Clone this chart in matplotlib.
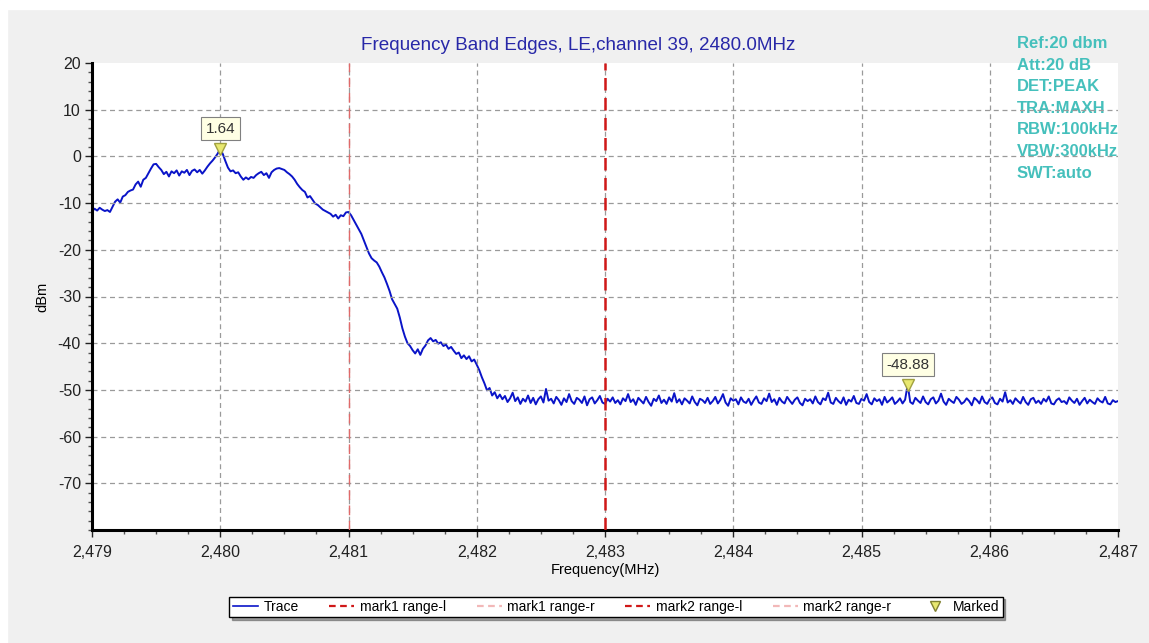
import numpy as np
import matplotlib
matplotlib.use('Agg')
import matplotlib.pyplot as plt
from matplotlib.lines import Line2D
from matplotlib.ticker import MultipleLocator, FuncFormatter

plt.rcParams['font.family'] = ['Liberation Sans', 'DejaVu Sans']
plt.rcParams['axes.unicode_minus'] = False

TITLE = 'Frequency Band Edges, LE,channel 39, 2480.0MHz'
SETTINGS = ['Ref:20 dbm', 'Att:20 dB', 'DET:PEAK', 'TRA:MAXH',
            'RBW:100kHz', 'VBW:300kHz', 'SWT:auto']

# trace level (dBm), sweep 2479 -> 2487 MHz, one point per 0.02 MHz
level = [
    -11.8, -11.2, -11.6, -11.0, -11.4, -11.7, -11.5, -11.9, -10.8, -9.7,
    -9.2, -9.9, -8.6, -8.3, -7.6, -7.3, -7.1, -6.0, -5.4, -6.5,
    -5.0, -4.6, -3.6, -2.6, -1.7, -1.6, -2.3, -2.9, -3.8, -3.3,
    -4.3, -3.2, -3.6, -3.0, -4.1, -3.2, -3.5, -2.9, -4.0, -3.1,
    -2.8, -3.4, -2.9, -3.7, -3.0, -2.2, -1.5, -0.9, -0.2, 0.6,
    1.64, 0.5, -1.0, -2.4, -3.2, -3.0, -3.6, -3.4, -4.3, -5.0,
    -4.5, -4.9, -4.4, -4.6, -4.0, -3.6, -3.3, -4.0, -3.6, -4.6,
    -3.4, -2.9, -2.6, -2.5, -2.7, -2.9, -3.4, -3.8, -4.3, -5.0,
    -5.9, -6.6, -7.2, -7.6, -8.8, -8.5, -9.3, -10.1, -10.4, -10.9,
    -11.4, -11.7, -12.0, -12.3, -12.9, -12.5, -13.3, -12.6, -12.8, -12.0,
    -11.9, -12.6, -13.6, -14.6, -15.6, -16.6, -18.0, -19.4, -20.8, -21.8,
    -22.3, -22.7, -23.6, -24.8, -25.9, -27.3, -28.8, -30.6, -31.6, -32.6,
    -34.5, -36.8, -38.6, -40.0, -40.6, -41.5, -42.2, -41.3, -42.5, -41.2,
    -40.5, -39.4, -38.9, -39.6, -39.3, -40.1, -39.8, -40.6, -40.3, -41.2,
    -40.8, -41.6, -42.3, -42.0, -43.2, -42.6, -43.4, -42.8, -43.9, -43.5,
    -44.6, -45.8, -47.3, -48.6, -50.1, -49.6, -51.2, -50.5, -51.8, -51.0,
    -52.0, -51.3, -52.6, -51.8, -50.6, -52.4, -51.6, -53.0, -51.9, -52.5,
    -51.2, -52.8, -51.7, -53.1, -52.0, -51.4, -52.7, -49.8, -52.3, -51.9,
    -52.9, -51.5, -52.2, -53.2, -51.8, -52.6, -50.9, -52.4, -53.0, -51.7,
    -52.1, -52.8, -51.4, -53.3, -52.0, -51.6, -52.9, -52.2, -51.3, -52.7,
    -53.0, -51.9, -52.5, -51.6, -52.8, -52.2, -53.1, -51.8, -52.4, -50.9,
    -52.6, -52.0, -53.2, -51.7, -52.3, -52.9, -51.5, -52.6, -53.4, -51.9,
    -52.4, -51.2, -52.8, -52.1, -53.0, -51.6, -52.5, -50.7, -52.7, -52.0,
    -53.1, -51.8, -52.3, -52.9, -51.4, -52.6, -53.3, -51.9, -52.2, -52.8,
    -51.7, -53.0, -52.4, -51.5, -52.9, -52.1, -50.9, -52.7, -53.4, -51.8,
    -52.3, -52.0, -53.1, -51.6, -52.5, -52.8, -51.9, -53.2, -52.2, -51.4,
    -52.7, -53.0, -51.8, -52.4, -50.8, -52.6, -52.0, -53.2, -51.7, -52.5,
    -52.9, -51.5, -52.3, -53.0, -52.1, -51.6, -52.8, -53.3, -51.9, -52.4,
    -52.0, -52.9, -51.4, -52.6, -53.1, -51.8, -52.2, -50.6, -52.7, -53.0,
    -51.7, -52.4, -52.9, -51.6, -53.2, -52.1, -52.5, -51.3, -52.8, -53.0,
    -51.9, -52.3, -50.9, -52.6, -53.1, -51.8, -52.4, -52.0, -53.2, -51.5,
    -52.7, -52.2, -51.6, -53.0, -52.5, -51.8, -52.9, -52.1, -48.88, -52.6,
    -53.0, -51.7, -52.3, -52.8, -51.4, -52.6, -53.1, -52.0, -51.6, -52.9,
    -52.3, -50.8, -52.5, -53.2, -51.9, -52.4, -52.8, -51.5, -52.1, -53.0,
    -52.6, -51.8, -52.4, -53.3, -51.7, -52.2, -52.9, -51.4, -52.6, -53.0,
    -52.0, -51.6, -52.8, -53.1, -51.9, -52.5, -50.5, -52.7, -52.2, -53.0,
    -51.8, -52.4, -52.9, -51.5, -52.6, -53.2, -52.0, -51.7, -52.8, -52.3,
    -53.0, -51.9, -52.5, -51.4, -52.9, -53.1, -52.2, -51.8, -52.6, -52.4,
    -53.0, -51.6, -52.3, -52.8, -51.9, -53.2, -52.4, -51.7, -52.9, -52.1,
    -52.6, -53.0, -51.8, -52.4, -52.7, -51.5, -52.9, -53.1, -52.2, -52.6,
    -52.4,
]
freq = np.linspace(2479.0, 2487.0, len(level))

mark_freq = [2480.0, 2485.36]
mark_level = [1.64, -48.88]
range_lines = [2481.0, 2483.0]

fig = plt.figure(figsize=(11.49, 6.43), dpi=100)
fig.patch.set_facecolor('#f0f0f0')
# thin white strip along top / left like the screenshot
fig.add_artist(plt.Rectangle((0, 1 - 9 / 643), 1, 9 / 643, transform=fig.transFigure,
                             color='white', zorder=0))
fig.add_artist(plt.Rectangle((0, 0), 7 / 1149, 1, transform=fig.transFigure,
                             color='white', zorder=0))

ax = fig.add_axes([92 / 1149, 1 - 530 / 643, (1118 - 92) / 1149, (530 - 63) / 643])
ax.set_facecolor('white')

ax.plot(freq, level, color='#0a14c8', lw=1.4, zorder=2)

ax.axvline(range_lines[0], color='#e06a6a', lw=1.0, ls=(0, (7, 4)), zorder=2.6)
ax.axvline(range_lines[1], color='#d01818', lw=1.8, ls=(0, (5, 3)), zorder=2.6)

ax.plot(mark_freq, mark_level, 'v', color='#e8e870', mec='#a0a040', ms=8, zorder=3)
for f, v in zip(mark_freq, mark_level):
    ax.annotate('%.2f' % v, (f, v), xytext=(0, 14.5), textcoords='offset points',
                ha='center', va='center', fontsize=11, color='#333333',
                bbox=dict(boxstyle='square,pad=0.3', fc='#ffffe4', ec='#808080', lw=0.8))

ax.set_xlim(2479, 2487)
ax.set_ylim(-80, 20)
ax.xaxis.set_major_locator(MultipleLocator(1))
ax.xaxis.set_minor_locator(MultipleLocator(0.25))
ax.yaxis.set_minor_locator(MultipleLocator(2))
ax.set_yticks(range(-70, 21, 10))
ax.xaxis.set_major_formatter(FuncFormatter(lambda v, p: '{:,.0f}'.format(v)))

# grid only on the inner ticks (no line on the plot's top / right edge)
for gx in range(2480, 2487):
    ax.axvline(gx, color='#9a9a9a', ls=(0, (4, 3)), lw=0.9, zorder=2.5)
for gy in range(-70, 20, 10):
    ax.axhline(gy, color='#9a9a9a', ls=(0, (4, 3)), lw=0.9, zorder=2.5)

for s in ['top', 'right']:
    ax.spines[s].set_visible(False)
for s in ['left', 'bottom']:
    ax.spines[s].set_linewidth(2.2)
ax.tick_params(which='major', length=5, width=1, labelsize=11.5, colors='#222222')
ax.tick_params(axis='x', which='major', pad=6)
ax.tick_params(axis='y', which='major', pad=3)
ax.tick_params(which='minor', length=3, width=1, color='#555555')

ax.set_xlabel('Frequency(MHz)', fontsize=10.5, labelpad=2)
ax.set_ylabel('dBm', fontsize=10.5, labelpad=6)

fig.text(578 / 1149, 1 - 45 / 643, TITLE, ha='center', va='center',
         fontsize=13.6, color='#2828a8')

ax.text(1017 / 1149, 1 - 36 / 643, '\n'.join(SETTINGS), transform=fig.transFigure,
        ha='left', va='top', fontsize=12, fontweight='bold', color='#45c0bc',
        linespacing=1.55, zorder=1, clip_on=False)

handles = [
    Line2D([], [], color='#0a14c8', lw=1.2),
    Line2D([], [], color='#d01818', lw=1.6, ls=(0, (3, 2))),
    Line2D([], [], color='#f2b8b8', lw=1.6, ls=(0, (3, 2))),
    Line2D([], [], color='#d01818', lw=1.6, ls=(0, (3, 2))),
    Line2D([], [], color='#f2b8b8', lw=1.6, ls=(0, (3, 2))),
    Line2D([], [], ls='none', marker='v', color='#e8e870', mec='#808030', ms=7),
]
labels = ['Trace', 'mark1 range-l', 'mark1 range-r', 'mark2 range-l', 'mark2 range-r', 'Marked']
leg = fig.legend(handles, labels, loc='center', bbox_to_anchor=(616 / 1149, 1 - 607 / 643),
                 ncol=6, fontsize=10, frameon=True, fancybox=False, shadow=True,
                 edgecolor='black', handlelength=1.8, columnspacing=2.2, handletextpad=0.4,
                 borderpad=0.25)
leg.get_frame().set_linewidth(1.0)

fig.savefig('out.png', dpi=100, facecolor=fig.get_facecolor())
